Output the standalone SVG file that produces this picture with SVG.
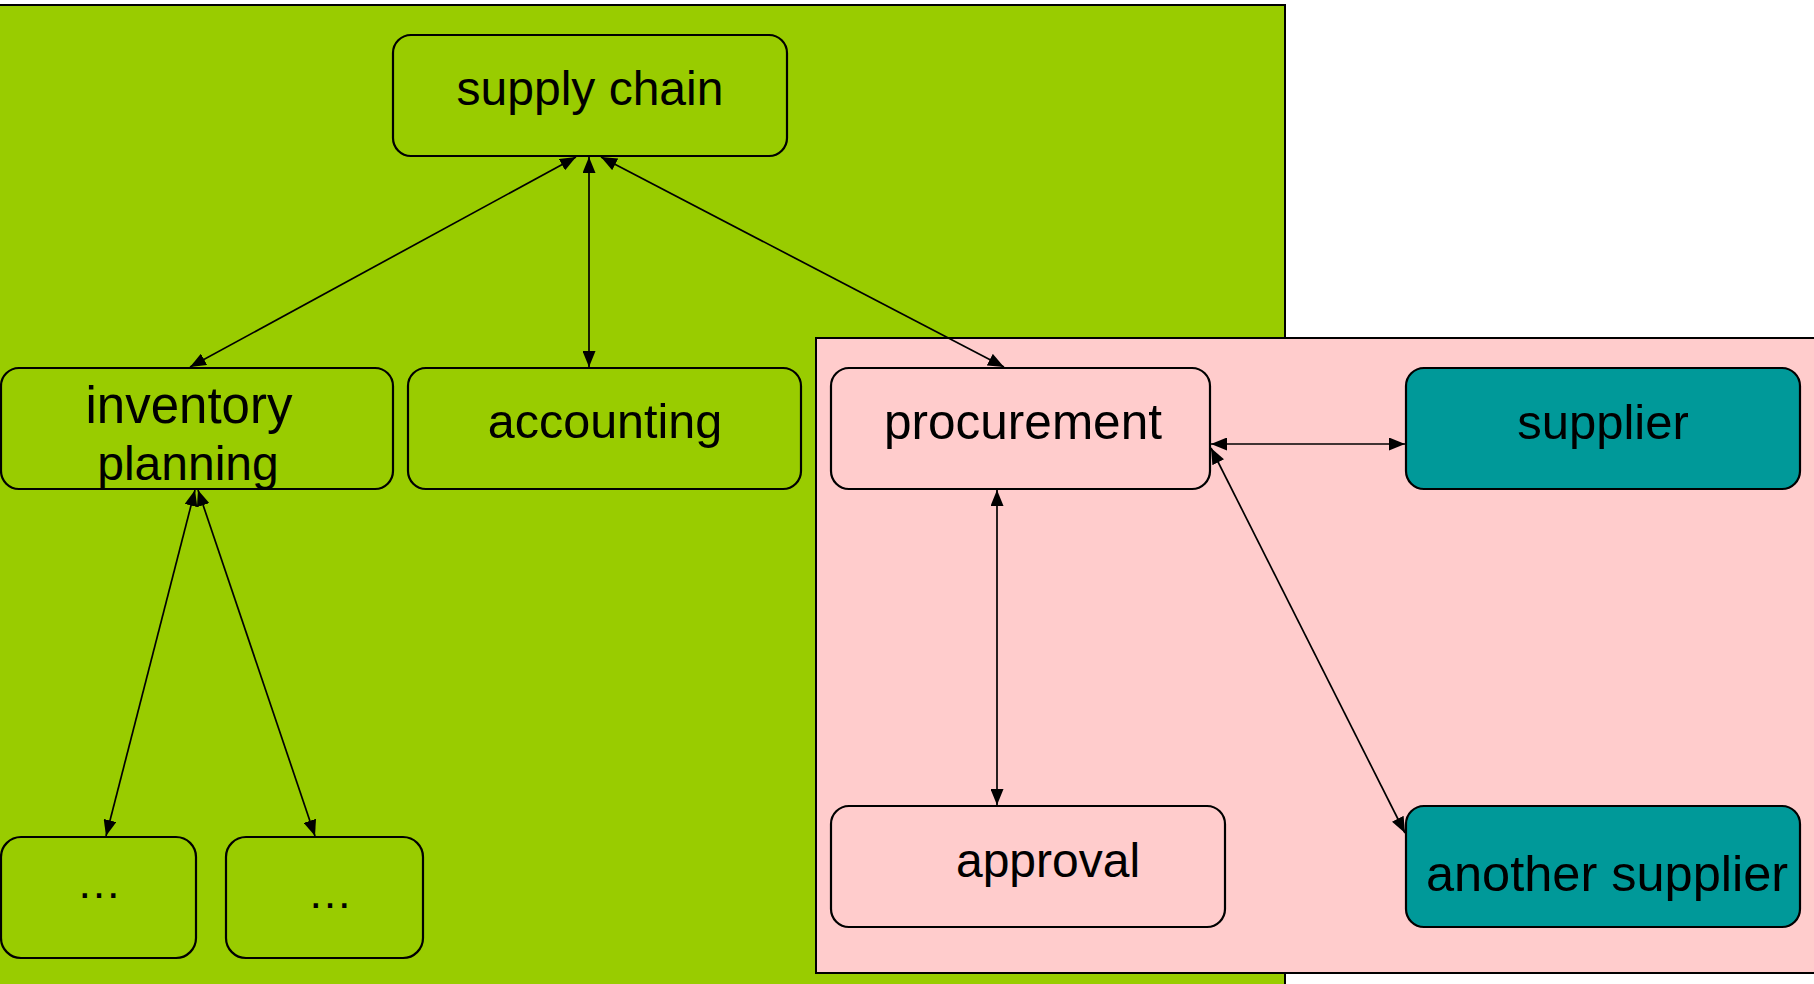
<svg xmlns="http://www.w3.org/2000/svg" width="1814" height="984" viewBox="0 0 1814 984">
  <defs>
    <style>
      .region { stroke: #000; stroke-width: 2; }
      .green { fill: #99CC00; }
      .pink { fill: #FFCCCC; }
      .teal { fill: #009999; }
      .box { stroke: #000; stroke-width: 2.2; }
      .label { font-family: "Liberation Sans", Arial, sans-serif; font-size: 48px; fill: #000; text-anchor: middle; }
      .link { stroke: #000; stroke-width: 1.7; fill: none; marker-start: url(#arrow); marker-end: url(#arrow); }
    </style>
    <marker id="arrow" viewBox="0 0 16 13" refX="16" refY="6.5" markerWidth="16" markerHeight="13" markerUnits="userSpaceOnUse" orient="auto-start-reverse">
      <path d="M0,0 L16,6.5 L0,13 z" fill="#000"/>
    </marker>
  </defs>

  <rect x="0" y="0" width="1814" height="984" fill="#fff"/>

  <!-- background areas -->
  <rect id="area-internal" class="region green" x="-5" y="5" width="1290" height="1000"/>
  <rect id="area-purchasing" class="region pink" x="816" y="338" width="1010" height="635"/>

  <!-- connectors -->
  <g id="connectors">
    <line class="link" x1="576" y1="157" x2="190" y2="367"/>
    <line class="link" x1="589" y1="157" x2="589" y2="367"/>
    <line class="link" x1="601" y1="157" x2="1004" y2="367"/>
    <line class="link" x1="195" y1="490" x2="106" y2="836"/>
    <line class="link" x1="198" y1="490" x2="315" y2="836"/>
    <line class="link" x1="1211" y1="444" x2="1405" y2="444"/>
    <line class="link" x1="997" y1="490" x2="997" y2="805"/>
    <line class="link" x1="1211" y1="448" x2="1405" y2="833"/>
  </g>

  <!-- nodes -->
  <g id="supply-chain">
    <rect class="box green" x="393" y="35" width="394" height="121" rx="18"/>
    <text class="label" x="590" y="105">supply chain</text>
  </g>
  <g id="inventory-planning">
    <rect class="box green" x="1" y="368" width="392" height="121" rx="18"/>
    <text class="label" x="189" y="423" style="font-size:51px">inventory</text>
    <text class="label" x="188" y="480">planning</text>
  </g>
  <g id="accounting">
    <rect class="box green" x="408" y="368" width="393" height="121" rx="18"/>
    <text class="label" x="605" y="438" style="font-size:48.5px">accounting</text>
  </g>
  <g id="sub-task-1">
    <rect class="box green" x="1" y="837" width="195" height="121" rx="20"/>
    <text class="label" x="99" y="898" style="font-size:45px">…</text>
  </g>
  <g id="sub-task-2">
    <rect class="box green" x="226" y="837" width="197" height="121" rx="20"/>
    <text class="label" x="330" y="908" style="font-size:45px">…</text>
  </g>
  <g id="procurement">
    <rect class="box pink" x="831" y="368" width="379" height="121" rx="18"/>
    <text class="label" x="1023" y="439" style="font-size:49.5px">procurement</text>
  </g>
  <g id="approval">
    <rect class="box pink" x="831" y="806" width="394" height="121" rx="18"/>
    <text class="label" x="1048" y="877">approval</text>
  </g>
  <g id="supplier">
    <rect class="box teal" x="1406" y="368" width="394" height="121" rx="18"/>
    <text class="label" x="1603" y="439" style="font-size:49px">supplier</text>
  </g>
  <g id="another-supplier">
    <rect class="box teal" x="1406" y="806" width="394" height="121" rx="18"/>
    <text class="label" x="1607" y="891" style="font-size:50.5px">another supplier</text>
  </g>
</svg>
